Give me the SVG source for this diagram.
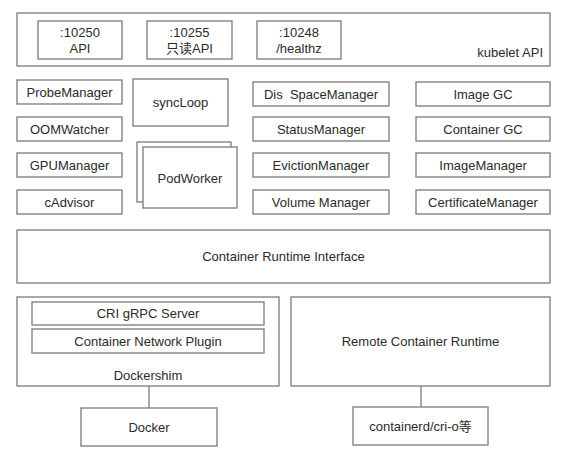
<svg xmlns="http://www.w3.org/2000/svg" width="576" height="456" viewBox="0 0 576 456">
  <style>
    .box { fill: #ffffff; stroke: #7a7a7a; stroke-width: 1.3; }
    .t { font-family: "Liberation Sans", Arial, "Noto Sans CJK SC", sans-serif; font-size: 13px; fill: #2b2b2b; text-anchor: middle; }
    .r { text-anchor: end; }
    .conn { stroke: #7a7a7a; stroke-width: 1.3; fill: none; }
  </style>
  <rect width="576" height="456" fill="#ffffff"/>

  <!-- kubelet API -->
  <g id="kubelet-api">
    <rect class="box" x="17" y="13" width="533" height="53"/>
    <text class="t r" x="543" y="57">kubelet API</text>
  </g>
  <g id="port-10250">
    <rect class="box" x="38" y="21" width="84" height="38"/>
    <text class="t" x="80" y="37">:10250</text>
    <text class="t" x="80" y="53">API</text>
  </g>
  <g id="port-10255">
    <rect class="box" x="147" y="21" width="85" height="38"/>
    <text class="t" x="189.5" y="37">:10255</text>
    <text class="t" x="189.5" y="53">只读API</text>
  </g>
  <g id="port-10248">
    <rect class="box" x="257" y="21" width="84" height="38"/>
    <text class="t" x="299" y="37">:10248</text>
    <text class="t" x="299" y="53">/healthz</text>
  </g>

  <!-- left column -->
  <g id="probe-manager">
    <rect class="box" x="17" y="80" width="105" height="24"/>
    <text class="t" x="69.5" y="97">ProbeManager</text>
  </g>
  <g id="oom-watcher">
    <rect class="box" x="17" y="117" width="105" height="24"/>
    <text class="t" x="69.5" y="134">OOMWatcher</text>
  </g>
  <g id="gpu-manager">
    <rect class="box" x="17" y="153" width="105" height="24"/>
    <text class="t" x="69.5" y="170">GPUManager</text>
  </g>
  <g id="cadvisor">
    <rect class="box" x="17" y="190" width="105" height="24"/>
    <text class="t" x="69.5" y="207">cAdvisor</text>
  </g>

  <!-- sync loop and pod workers -->
  <g id="sync-loop">
    <rect class="box" x="133" y="79" width="95" height="47"/>
    <text class="t" x="180.5" y="107">syncLoop</text>
  </g>
  <g id="pod-worker">
    <rect class="box" x="137" y="142" width="94" height="60"/>
    <rect class="box" x="143" y="147" width="94" height="61"/>
    <text class="t" x="190" y="183">PodWorker</text>
  </g>

  <!-- middle column -->
  <g id="disk-space-manager">
    <rect class="box" x="253" y="82" width="136" height="24"/>
    <text class="t" x="321" y="99" style="white-space:pre">Dis  SpaceManager</text>
  </g>
  <g id="status-manager">
    <rect class="box" x="253" y="117" width="136" height="24"/>
    <text class="t" x="321" y="134">StatusManager</text>
  </g>
  <g id="eviction-manager">
    <rect class="box" x="253" y="153" width="136" height="24"/>
    <text class="t" x="321" y="170">EvictionManager</text>
  </g>
  <g id="volume-manager">
    <rect class="box" x="253" y="190" width="136" height="24"/>
    <text class="t" x="321" y="207">Volume Manager</text>
  </g>

  <!-- right column -->
  <g id="image-gc">
    <rect class="box" x="416" y="82" width="134" height="24"/>
    <text class="t" x="483" y="99">Image GC</text>
  </g>
  <g id="container-gc">
    <rect class="box" x="416" y="117" width="134" height="24"/>
    <text class="t" x="483" y="134">Container GC</text>
  </g>
  <g id="image-manager">
    <rect class="box" x="416" y="153" width="134" height="24"/>
    <text class="t" x="483" y="170">ImageManager</text>
  </g>
  <g id="certificate-manager">
    <rect class="box" x="416" y="190" width="134" height="24"/>
    <text class="t" x="483" y="207">CertificateManager</text>
  </g>

  <!-- runtime layer -->
  <g id="cri">
    <rect class="box" x="17" y="230" width="533" height="53"/>
    <text class="t" x="283.5" y="261">Container Runtime Interface</text>
  </g>
  <g id="dockershim">
    <rect class="box" x="17" y="297" width="262" height="89"/>
    <text class="t" x="148" y="380">Dockershim</text>
  </g>
  <g id="cri-grpc-server">
    <rect class="box" x="32" y="302" width="232" height="23"/>
    <text class="t" x="148" y="318">CRI gRPC Server</text>
  </g>
  <g id="network-plugin">
    <rect class="box" x="32" y="329" width="232" height="24"/>
    <text class="t" x="148" y="346">Container Network Plugin</text>
  </g>
  <g id="remote-runtime">
    <rect class="box" x="291" y="297" width="259" height="89"/>
    <text class="t" x="420.5" y="346">Remote Container Runtime</text>
  </g>
  <g id="docker">
    <rect class="box" x="81" y="408" width="136" height="38"/>
    <text class="t" x="149" y="432">Docker</text>
  </g>
  <g id="containerd">
    <rect class="box" x="353" y="407" width="135" height="38"/>
    <text class="t" x="420.5" y="431">containerd/cri-o等</text>
  </g>

  <!-- connectors -->
  <g id="connectors">
    <line class="conn" x1="149" y1="386" x2="149" y2="408"/>
    <line class="conn" x1="421" y1="386" x2="421" y2="407"/>
  </g>
</svg>
